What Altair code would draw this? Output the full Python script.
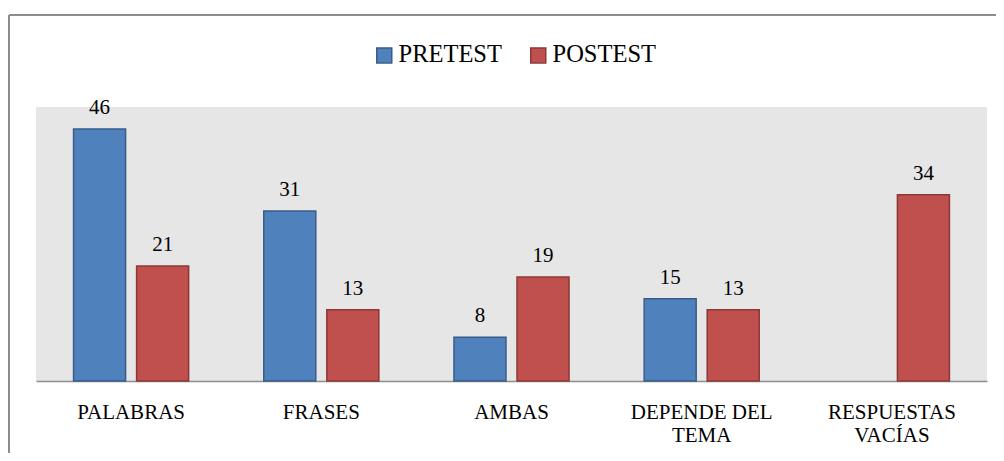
import altair as alt
import pandas as pd

categories = ["PALABRAS", "FRASES", "AMBAS", "DEPENDE DEL TEMA", "RESPUESTAS VACÍAS"]
series = ["PRETEST", "POSTEST"]
pretest = [46, 31, 8, 15, None]
postest = [21, 13, 19, 13, 34]
wrapped = {"DEPENDE DEL TEMA": ["DEPENDE DEL", "TEMA"],
           "RESPUESTAS VACÍAS": ["RESPUESTAS", "VACÍAS"]}

rows = []
for c, a, b in zip(categories, pretest, postest):
    if a is not None:
        rows.append({"cat": c, "serie": "PRETEST", "val": a})
    if b is not None:
        rows.append({"cat": c, "serie": "POSTEST", "val": b})
df = pd.DataFrame(rows)

FONT = "Liberation Serif"

label_expr = "".join(
    f"datum.value == '{k}' ? {v!r} : " for k, v in wrapped.items()
) + "datum.value"

x = alt.X("cat:N", sort=categories, title=None,
          scale=alt.Scale(paddingInner=0.395, paddingOuter=0.1975),
          axis=alt.Axis(labelAngle=0, ticks=False, domainColor="#8E8E8E",
                        domainWidth=1.5, labelFont=FONT, labelFontSize=21,
                        labelColor="#000000", labelPadding=20, labelLimit=400,
                        labelLineHeight=23, labelExpr=label_expr))
xo = alt.XOffset("serie:N", sort=series,
                 scale=alt.Scale(paddingInner=0.175, paddingOuter=0))
y = alt.Y("val:Q", scale=alt.Scale(domain=[0, 50]), axis=None)

leg = dict(title=None, orient="none", direction="horizontal",
           legendX=336, legendY=-64, symbolType="square",
           symbolSize=225, labelFont=FONT, labelFontSize=24.5,
           labelColor="#000000", labelOffset=2,
           columnPadding=24, symbolStrokeWidth=1.5)

bars = alt.Chart(df).mark_bar(strokeWidth=1.5).encode(
    x=x, xOffset=xo, y=y,
    color=alt.Color("serie:N", sort=series,
                    scale=alt.Scale(domain=series, range=["#4F81BD", "#C0504D"]),
                    legend=alt.Legend(**leg)),
    stroke=alt.Stroke("serie:N", sort=series,
                      scale=alt.Scale(domain=series, range=["#385D8A", "#8C3836"]),
                      legend=alt.Legend(**leg)),
)

labels = alt.Chart(df).mark_text(font=FONT, fontSize=21, color="#000000",
                                 baseline="alphabetic", dy=-15).encode(
    x=x, xOffset=xo, y=y, text=alt.Text("val:Q")
)

frame = alt.Chart(pd.DataFrame({"k": [0]}))
top_line = frame.mark_rule(color="#8C8C8C", strokeWidth=2).encode(
    x=alt.value(-27), x2=alt.value(1000), y=alt.value(-92))
left_line = frame.mark_rule(color="#8C8C8C", strokeWidth=2).encode(
    x=alt.value(-27), y=alt.value(-92), y2=alt.value(400))

chart = alt.layer(top_line, left_line, bars, labels).properties(
    width=951, height=274,
    padding={"left": 28, "top": 99, "right": 9, "bottom": 72},
    autosize="none",
).configure(font=FONT).configure_view(fill="#E6E6E6", stroke=None).configure_axis(
    labelFont=FONT, labelFontSize=21
).configure_text(font=FONT, fontSize=21)

chart.save("out.html", embed_options={"renderer": "svg", "actions": False})
